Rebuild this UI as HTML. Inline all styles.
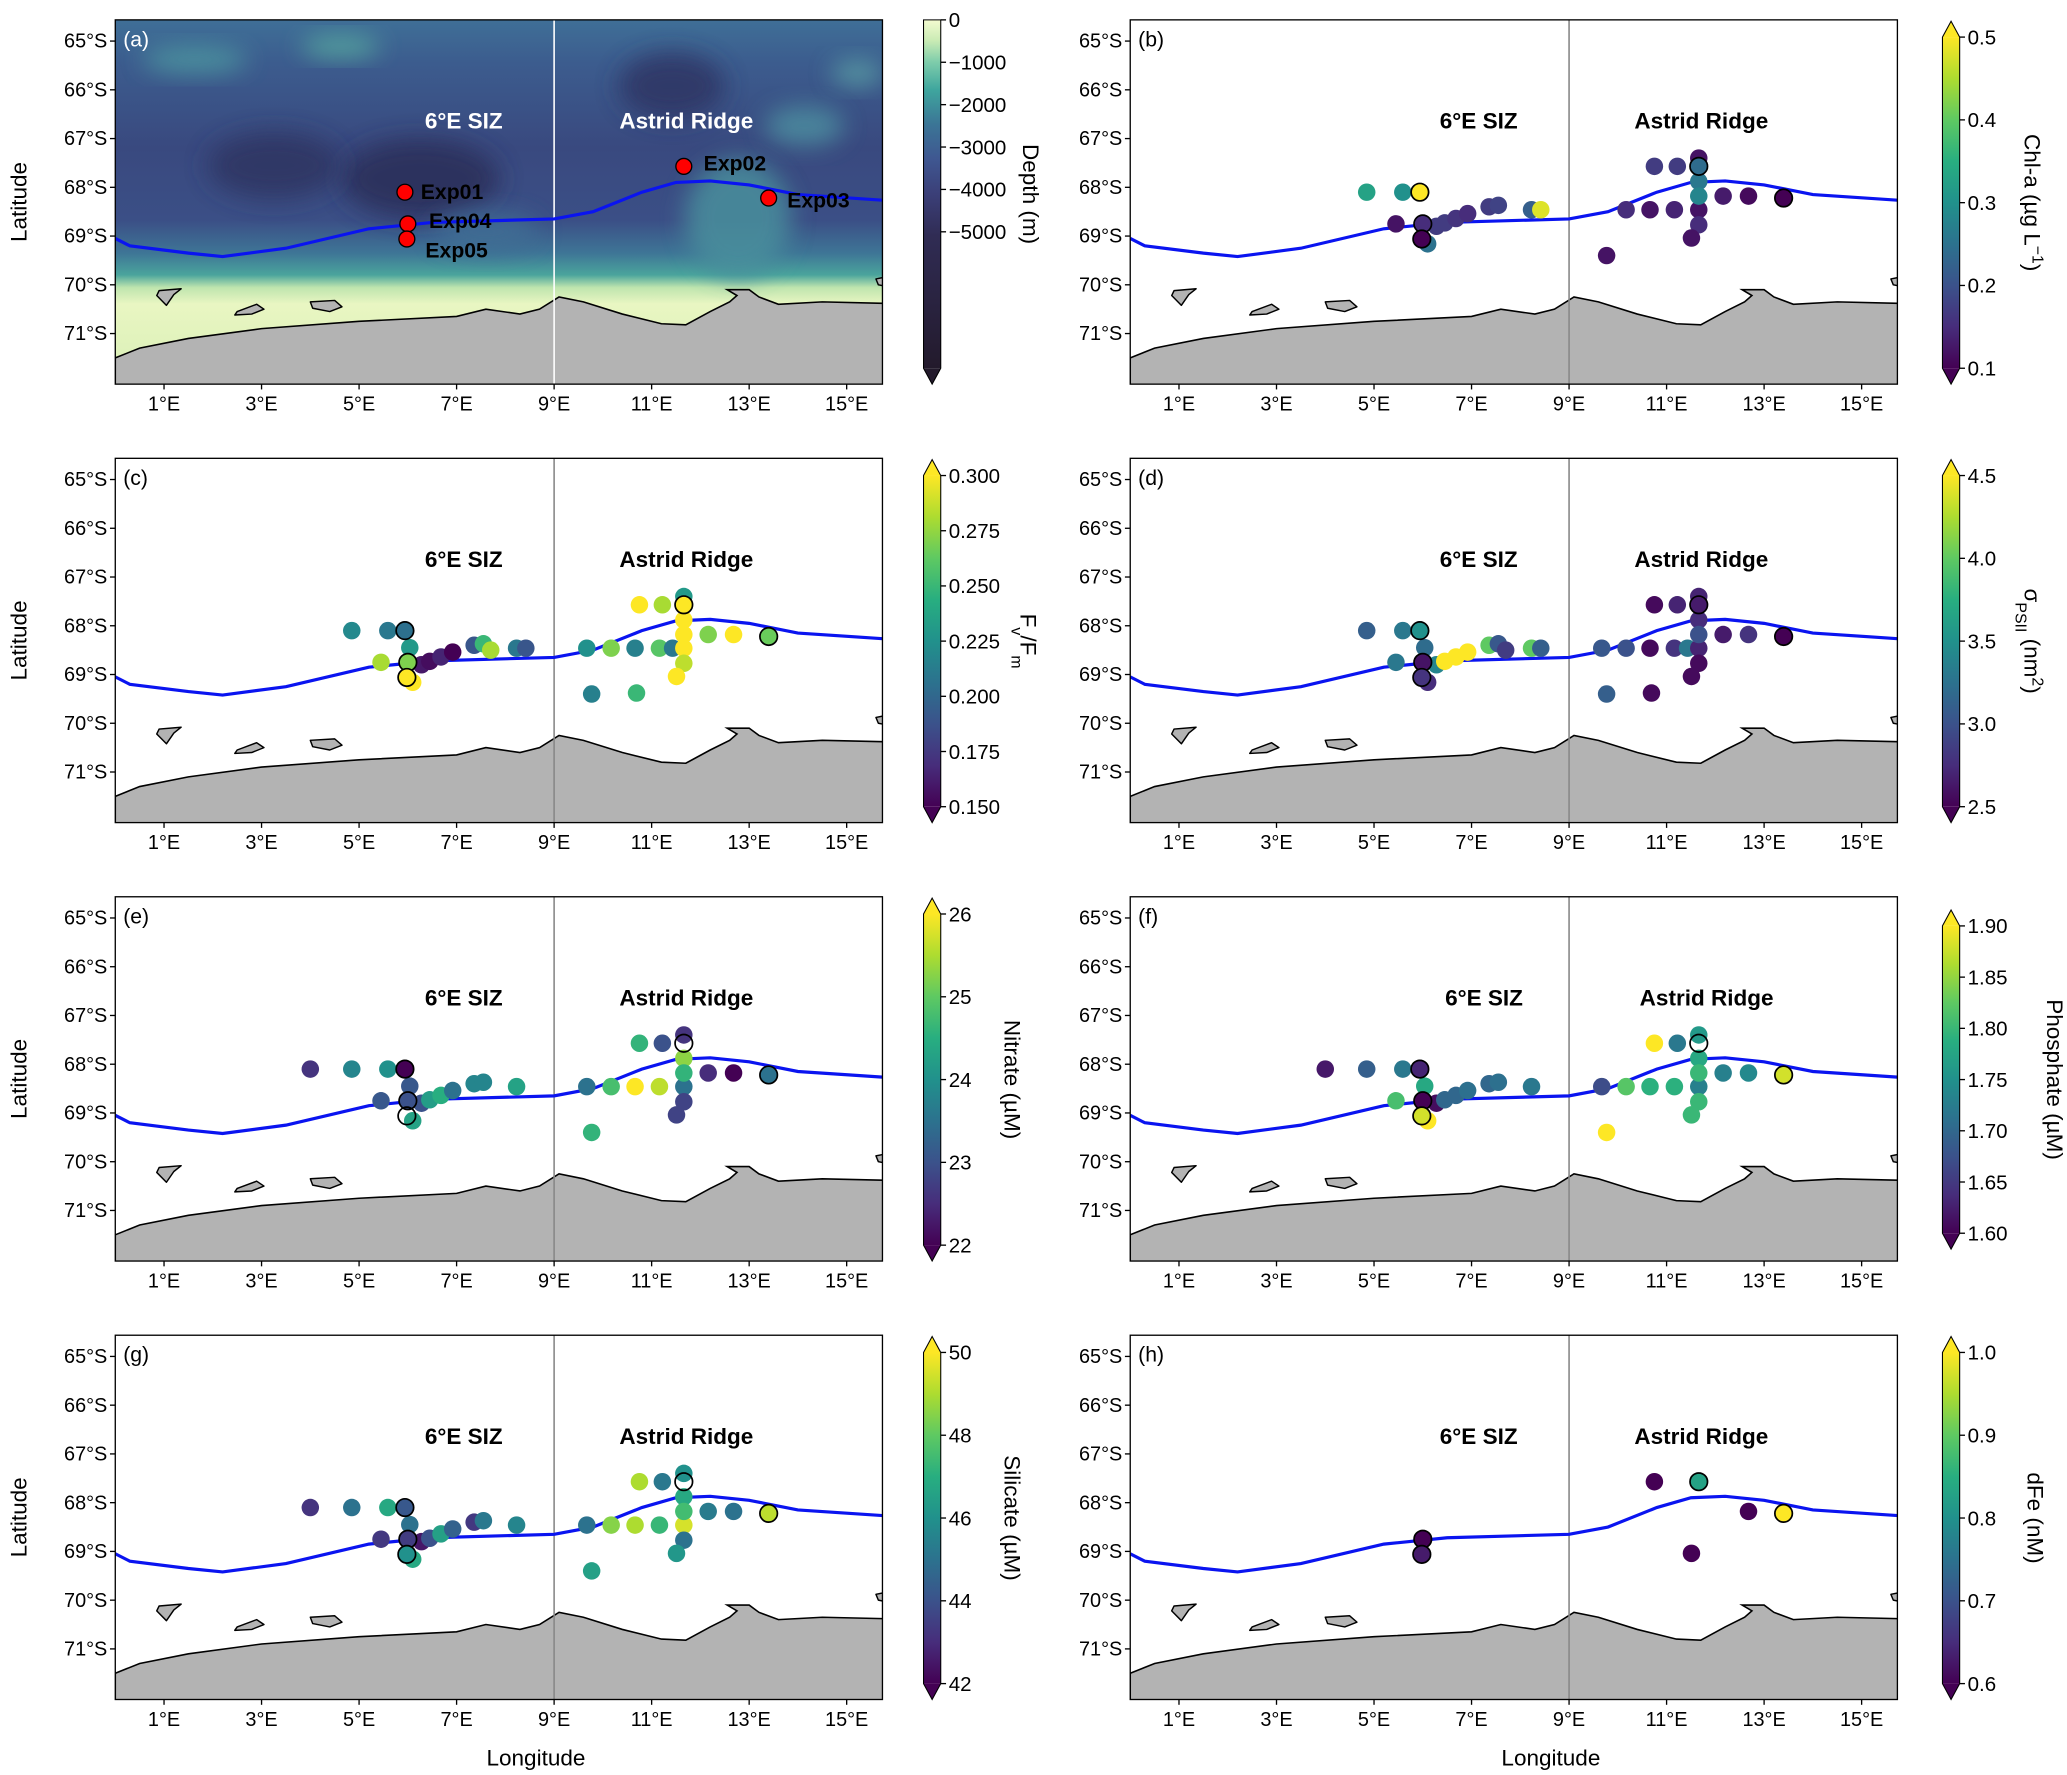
<!DOCTYPE html>
<html><head><meta charset="utf-8">
<style>
html,body{margin:0;padding:0;background:#fff;}
svg{display:block;font-family:"Liberation Sans",Arial,sans-serif;}
</style></head>
<body>
<svg id="fig" width="2067" height="1775" viewBox="0 0 1560 1340" preserveAspectRatio="none" xmlns="http://www.w3.org/2000/svg">
<defs>
<linearGradient id="viridisV" x1="0" y1="1" x2="0" y2="0">
<stop offset="0" stop-color="#440154"/><stop offset="0.125" stop-color="#472d7b"/><stop offset="0.25" stop-color="#3b528b"/><stop offset="0.375" stop-color="#2c728e"/><stop offset="0.5" stop-color="#21918c"/><stop offset="0.625" stop-color="#28ae80"/><stop offset="0.75" stop-color="#5ec962"/><stop offset="0.875" stop-color="#addc30"/><stop offset="1" stop-color="#fde725"/>
</linearGradient>
<linearGradient id="depthV" x1="0" y1="0" x2="0" y2="1">
<stop offset="0" stop-color="#f4fbd0"/><stop offset="0.06" stop-color="#c9ebb4"/><stop offset="0.12" stop-color="#7fcdab"/><stop offset="0.2" stop-color="#3fa69e"/><stop offset="0.3" stop-color="#3b7596"/><stop offset="0.4" stop-color="#3f5791"/><stop offset="0.5" stop-color="#3b3f78"/><stop offset="0.62" stop-color="#302c54"/><stop offset="1" stop-color="#231a2c"/>
</linearGradient>
<linearGradient id="oceanV" x1="0" y1="0" x2="0" y2="1">
<stop offset="0" stop-color="#3f6f97"/><stop offset="0.12" stop-color="#3c5c8e"/><stop offset="0.35" stop-color="#39497f"/><stop offset="0.55" stop-color="#3b4f86"/><stop offset="0.64" stop-color="#3e7596"/><stop offset="0.7" stop-color="#4aa49c"/><stop offset="0.735" stop-color="#bfe5ae"/><stop offset="0.78" stop-color="#e9f6c2"/><stop offset="1" stop-color="#d8efb6"/>
</linearGradient>
<filter id="blur" x="-50%" y="-50%" width="200%" height="200%"><feGaussianBlur stdDeviation="9"/></filter>
</defs>
<g id="root"></g>
</svg>
<script>
// ---------- station data (lon °E, lat °S) ----------
const stationLon = [4.0,4.85,5.59,5.94,6.04,5.45,6.0,5.98,6.1,6.28,6.45,6.68,6.92,7.36,7.55,7.7,8.23,8.42,9.67,10.17,10.66,11.16,11.43,11.66,10.75,11.22,11.66,11.66,11.66,11.66,11.66,11.51,12.16,12.68,13.4,9.77,10.69];
const stationLat = [68.1,68.1,68.1,68.1,68.45,68.75,68.75,69.06,69.16,68.8,68.73,68.64,68.54,68.4,68.37,68.5,68.46,68.46,68.46,68.46,68.46,68.46,68.46,68.46,67.57,67.57,67.4,67.57,67.88,68.18,68.77,69.04,68.18,68.18,68.22,69.4,69.38];
const outlinedStations = [3,6,7,27,34];
const N = null;
const chlValues      = [N,0.33,0.30,0.50,N,0.12,0.15,0.10,0.25,0.17,0.17,0.16,0.15,0.17,0.18,N,0.22,0.48,N,0.15,0.12,0.14,N,0.12,0.17,0.17,0.12,0.24,0.26,0.28,0.15,0.12,0.13,0.11,0.10,0.12,N];
const fvfmValues     = [N,0.22,0.21,0.205,0.23,0.28,0.27,0.30,0.30,0.16,0.155,0.165,0.15,0.19,0.25,0.28,0.21,0.19,0.225,0.27,0.215,0.26,0.21,0.30,0.30,0.28,0.23,0.30,0.30,0.30,0.285,0.30,0.27,0.30,0.265,0.215,0.25];
const sigmaValues    = [N,3.1,3.3,3.5,3.2,3.3,2.6,2.8,2.75,3.4,4.5,4.5,4.5,4.0,3.05,2.85,4.0,3.1,3.05,3.0,2.55,2.8,3.3,2.7,2.55,2.7,2.7,2.65,2.75,3.0,2.55,2.55,2.65,2.8,2.5,3.1,2.55];
const nitrateValues  = [22.6,23.8,24.0,22.0,23.1,23.1,23.0,N,24.3,23.0,24.2,24.5,23.5,23.8,23.8,N,24.3,N,23.5,24.8,26.0,25.6,N,23.5,24.6,23.0,22.6,N,25.3,24.6,22.8,22.8,22.5,22.0,23.5,24.6,N];
const phosphateValues= [1.62,1.69,1.72,1.63,1.78,1.81,1.60,1.88,1.90,1.61,1.70,1.70,1.71,1.70,1.71,N,1.72,N,1.67,1.82,1.79,1.79,N,1.73,1.90,1.72,1.76,N,1.78,1.80,1.80,1.80,1.73,1.74,1.88,1.90,N];
const silicateValues = [43.2,45.0,46.8,44.2,45.0,43.3,43.4,46.0,46.8,42.5,44.0,46.5,44.5,43.3,45.2,N,45.6,N,45.0,48.5,49.0,47.3,N,49.5,49.0,45.2,46.0,N,46.8,47.5,45.0,46.2,45.3,45.0,49.2,46.5,N];
const dfeValues      = [N,N,N,N,N,N,0.60,0.63,N,N,N,N,N,N,N,N,N,N,N,N,N,N,N,N,0.60,N,N,0.83,N,N,N,0.60,N,0.60,1.0,N,N];
// ---------- geographic lines ----------
const frontLon = [0,0.3,1.5,2.2,3.5,5.2,6.5,9.0,9.8,10.8,11.5,12.2,13.0,14.0,15.8];
const frontLat = [69.05,69.2,69.35,69.42,69.25,68.85,68.72,68.65,68.5,68.1,67.9,67.87,67.95,68.15,68.27];
const coastLon = [0,0.5,1.5,3.0,5.0,7.0,7.6,8.3,8.7,9.1,9.6,10.4,11.2,11.7,12.2,12.6,12.75,12.55,13.0,13.2,13.6,14.5,15.8];
const coastLat = [71.5,71.3,71.1,70.9,70.75,70.65,70.5,70.6,70.5,70.25,70.35,70.6,70.8,70.82,70.55,70.35,70.22,70.1,70.1,70.25,70.4,70.35,70.38];
const islandLon = [[0.9,1.35,1.2,1.05,0.85],[2.5,2.9,3.05,2.8,2.45],[4.0,4.5,4.65,4.4,4.05],[15.9,15.6,15.65,15.9]];
const islandLat = [[70.12,70.08,70.2,70.42,70.22],[70.55,70.4,70.5,70.6,70.62],[70.35,70.32,70.45,70.55,70.48],[69.82,69.88,70.0,70.05]];
// ---------- colorbar ticks ----------
const depthTicks = [0,-1000,-2000,-3000,-4000,-5000];
const chlTicks = ["0.1","0.2","0.3","0.4","0.5"];
const fvfmTicks = ["0.150","0.175","0.200","0.225","0.250","0.275","0.300"];
const sigmaTicks = ["2.5","3.0","3.5","4.0","4.5"];
const nitrateTicks = ["22","23","24","25","26"];
const phosphateTicks = ["1.60","1.65","1.70","1.75","1.80","1.85","1.90"];
const silicateTicks = ["42","44","46","48","50"];
const dfeTicks = ["0.6","0.7","0.8","0.9","1.0"];
const latTicks = [65,66,67,68,69,70,71];
const lonTicks = [1,3,5,7,9,11,13,15];
const expNames = ["Exp01","Exp04","Exp05","Exp02","Exp03"];
const expStations = [3,6,7,27,34];

const NS="http://www.w3.org/2000/svg";
const root=document.getElementById('root');
function mk(tag,attrs,parent){const e=document.createElementNS(NS,tag);for(const k in attrs)e.setAttribute(k,attrs[k]);(parent||root).appendChild(e);return e;}
const SC=36.8, LAT0=64.565, AW=579, AH=275;
function xs(lon){return lon*SC;}
function ys(lat){return (lat-LAT0)*SC;}
const vStops=[[68,1,84],[71,45,123],[59,82,139],[44,114,142],[33,145,140],[40,174,128],[94,201,98],[173,220,48],[253,231,37]];
function viridis(t){t=Math.max(0,Math.min(1,t));const p=t*8,i=Math.min(7,Math.floor(p)),f=p-i;const a=vStops[i],b=vStops[i+1];return `rgb(${Math.round(a[0]+(b[0]-a[0])*f)},${Math.round(a[1]+(b[1]-a[1])*f)},${Math.round(a[2]+(b[2]-a[2])*f)})`;}
function pts(lons,lats){return lons.map((l,i)=>xs(l).toFixed(1)+','+ys(lats[i]).toFixed(1)).join(' ');}

function panel(opt){
  const X=opt.x,Y=opt.y;
  const g=mk('g',{});
  
  
  const inner=mk('svg',{x:X,y:Y,width:AW,height:AH,overflow:'hidden'},g);
  
  
  if(opt.bathy){
    const bg=mk('rect',{x:0,y:0,width:AW,height:AH,fill:'url(#oceanV)'},inner);
    
    
    const blobs=[[60,30,'#4e9aa0',40,10],[170,20,'#5ab0a0',30,8],[230,120,'#2b2d58',60,30],[120,110,'#2f3562',50,25],[420,50,'#2f3563',40,25],[470,150,'#4a8f9c',40,45],[520,80,'#4d8fa0',30,15],[280,160,'#3f6e94',40,15],[560,40,'#5a9ea4',20,10]];
    blobs.forEach(b=>{mk('ellipse',{cx:b[0],cy:b[1],rx:b[3],ry:b[4],fill:b[2],filter:'url(#blur)',opacity:0.85},inner);});
  }
  const land=mk('polygon',{points:pts(coastLon.concat([15.8,0]),coastLat.concat([72.1,72.1])),fill:'#b3b3b3',stroke:'#000','stroke-width':1.2},inner);
  
  
  islandLon.forEach((il,k)=>{
    const isl=mk('polygon',{points:pts(il,islandLat[k]),fill:'#b3b3b3',stroke:'#000','stroke-width':1.1,'stroke-linejoin':'round'},inner);
    
    
  });
  const vl=mk('line',{x1:xs(9),x2:xs(9),y1:0,y2:AH,stroke:opt.bathy?'#fff':'#888','stroke-width':1.2},inner);
  
  
  const fr=mk('polyline',{points:pts(frontLon,frontLat),fill:'none',stroke:'#0a14f0','stroke-width':2.4},inner);
  
  
  if(opt.values){
    const order=[];
    for(let i=0;i<stationLon.length;i++){if(!outlinedStations.includes(i))order.push(i);}
    outlinedStations.forEach(i=>order.push(i));
    order.forEach(i=>{
      const v=opt.values[i], out=outlinedStations.includes(i);
      if(v===null&&(!out||opt.hideEmpty))return;
      const c=mk('circle',{cx:xs(stationLon[i]),cy:ys(stationLat[i]),r:6.6,
        fill:v===null?'none':viridis((v-opt.vmin)/(opt.vmax-opt.vmin)),
        stroke:out?'#000':'none','stroke-width':1.3},inner);
      
      
    });
  }
  if(opt.bathy){
    expStations.forEach((s,k)=>{
      const c=mk('circle',{cx:xs(stationLon[s]),cy:ys(stationLat[s]),r:6,fill:'#f00',stroke:'#000','stroke-width':1},inner);
      
      
    });
    const lab=[[12,5],[16,3],[14,14],[15,3],[14,7]];
    expNames.forEach((n,k)=>{
      const s=expStations[k];
      const t=mk('text',{x:xs(stationLon[s])+lab[k][0],y:ys(stationLat[s])+lab[k][1],'font-size':16,'font-weight':'bold',fill:'#000'},inner);
      t.textContent=n;
      
      
    });
  }
  const fillT=opt.bathy?'#fff':'#000';
  const t1=mk('text',{x:X+(opt.sx||263),y:Y+82,'font-size':17,'font-weight':'bold',fill:fillT,'text-anchor':'middle'},g);
  t1.textContent='6°E SIZ';
  
  
  const t2=mk('text',{x:X+(opt.ax||431),y:Y+82,'font-size':17,'font-weight':'bold',fill:fillT,'text-anchor':'middle'},g);
  t2.textContent='Astrid Ridge';
  
  
  const pl=mk('text',{x:X+6,y:Y+20,'font-size':16,fill:opt.bathy?'#fff':'#000'},g);
  pl.textContent='('+opt.letter+')';
  
  
  const fr2=mk('rect',{x:X,y:Y,width:AW,height:AH,fill:'none',stroke:'#000','stroke-width':1},g);
  
  
  latTicks.forEach(l=>{
    const yy=Y+ys(l);
    mk('line',{x1:X-4,x2:X,y1:yy,y2:yy,stroke:'#000','stroke-width':1},g);
    const t=mk('text',{x:X-6,y:yy+5,'font-size':15,'text-anchor':'end',fill:'#000'},g);
    t.textContent=l+'°S';
    
    
  });
  lonTicks.forEach(l=>{
    const xx=X+xs(l);
    mk('line',{x1:xx,x2:xx,y1:Y+AH,y2:Y+AH+4,stroke:'#000','stroke-width':1},g);
    const t=mk('text',{x:xx,y:Y+AH+20,'font-size':15,'text-anchor':'middle',fill:'#000'},g);
    t.textContent=l+'°E';
    
    
  });
  if(opt.ylabel){
    const t=mk('text',{x:X-67,y:Y+AH/2,'font-size':17,'text-anchor':'middle',transform:`rotate(-90 ${X-67} ${Y+AH/2})`},g);
    t.textContent='Latitude';
    
    
  }
  if(opt.xlabel){
    const t=mk('text',{x:X+AW/2+28,y:Y+AH+50,'font-size':17,'text-anchor':'middle'},g);
    t.textContent='Longitude';
    
    
  }
  // colorbar
  const cx=opt.cbx, ct=opt.cbTop, cb=opt.cbBot, cw=13;
  const cg=mk('g',{},g);
  
  
  if(opt.bathy){
    mk('rect',{x:cx,y:ct,width:cw,height:cb-ct,fill:'url(#depthV)'},cg);
    mk('polygon',{points:`${cx},${cb} ${cx+cw},${cb} ${cx+cw/2},${cb+12}`,fill:'#231a2c'},cg);
    mk('path',{d:`M${cx},${ct} H${cx+cw} V${cb} L${cx+cw/2},${cb+12} L${cx},${cb} Z`,fill:'none',stroke:'#000','stroke-width':0.8},cg);
  } else {
    mk('rect',{x:cx,y:ct,width:cw,height:cb-ct,fill:'url(#viridisV)'},cg);
    mk('polygon',{points:`${cx},${ct} ${cx+cw},${ct} ${cx+cw/2},${ct-12}`,fill:'#fde725'},cg);
    mk('polygon',{points:`${cx},${cb} ${cx+cw},${cb} ${cx+cw/2},${cb+12}`,fill:'#440154'},cg);
    mk('path',{d:`M${cx},${ct} L${cx+cw/2},${ct-12} L${cx+cw},${ct} V${cb} L${cx+cw/2},${cb+12} L${cx},${cb} Z`,fill:'none',stroke:'#000','stroke-width':0.8},cg);
  }
  const tv=opt.ticks;
  tv.forEach((lab,k)=>{
    let yy;
    if(opt.bathy){yy=ct+(-lab)/1000*opt.step;}
    else{const v=parseFloat(lab);yy=cb-(v-opt.vmin)/(opt.vmax-opt.vmin)*(cb-ct);}
    mk('line',{x1:cx+cw,x2:cx+cw+4,y1:yy,y2:yy,stroke:'#000','stroke-width':1},cg);
    const t=mk('text',{x:cx+cw+6,y:yy+5.5,'font-size':15.5,fill:'#000'},cg);
    t.textContent=opt.bathy?(lab===0?'0':'\u2212'+(-lab)):lab;
    
    
  });
  const lx=opt.labx, ly=(ct+cb)/2;
  const lt=mk('text',{x:lx,y:ly,'font-size':17,'text-anchor':'middle',transform:`rotate(90 ${lx} ${ly})`},cg);
  lt.innerHTML=opt.label;
  
  
}

const LX=87, RX=853, rowY=[15,346,677,1008];
panel({letter:'a',x:LX,y:rowY[0],bathy:true,cbx:697,cbTop:15,cbBot:278,step:32,ticks:depthTicks,labx:772,label:'Depth (m)',ylabel:true});
panel({letter:'b',x:RX,y:rowY[0],values:chlValues,vmin:0.1,vmax:0.5,cbx:1466,cbTop:28,cbBot:278,ticks:chlTicks,labx:1528,label:'Chl-a (µg L<tspan baseline-shift="super" font-size="12">−1</tspan>)'});
panel({letter:'c',x:LX,y:rowY[1],values:fvfmValues,vmin:0.15,vmax:0.30,cbx:697,cbTop:359,cbBot:609,ticks:fvfmTicks,labx:770,label:'F<tspan baseline-shift="sub" font-size="12">v</tspan>/F<tspan baseline-shift="sub" font-size="12">m</tspan>',ylabel:true});
panel({letter:'d',x:RX,y:rowY[1],values:sigmaValues,vmin:2.5,vmax:4.5,cbx:1466,cbTop:359,cbBot:609,ticks:sigmaTicks,labx:1528,label:'σ<tspan baseline-shift="sub" font-size="12">PSII</tspan> (nm<tspan baseline-shift="super" font-size="12">2</tspan>)'});
panel({letter:'e',x:LX,y:rowY[2],values:nitrateValues,vmin:22,vmax:26,cbx:697,cbTop:690,cbBot:940,ticks:nitrateTicks,labx:758,label:'Nitrate (µM)',ylabel:true});
panel({letter:'f',x:RX,y:rowY[2],values:phosphateValues,vmin:1.60,vmax:1.90,cbx:1466,cbTop:699,cbBot:931,ticks:phosphateTicks,labx:1545,label:'Phosphate (µM)',sx:267,ax:435});
panel({letter:'g',x:LX,y:rowY[3],values:silicateValues,vmin:42,vmax:50,cbx:697,cbTop:1021,cbBot:1271,ticks:silicateTicks,labx:758,label:'Silicate (µM)',ylabel:true,xlabel:true});
panel({letter:'h',x:RX,y:rowY[3],values:dfeValues,vmin:0.6,vmax:1.0,cbx:1466,cbTop:1021,cbBot:1271,ticks:dfeTicks,labx:1530,label:'dFe (nM)',xlabel:true,hideEmpty:true});
</script>
</body></html>
